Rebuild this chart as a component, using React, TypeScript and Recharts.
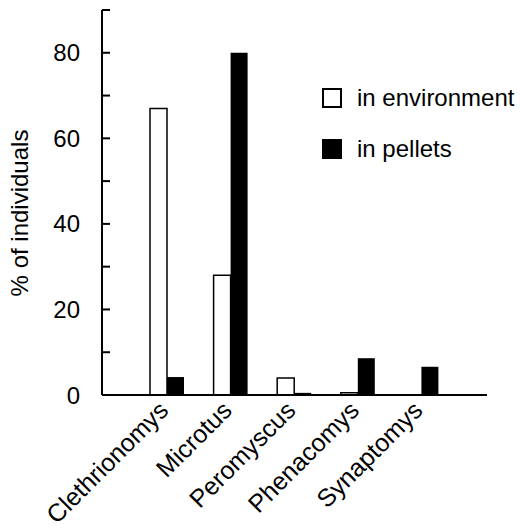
import { BarChart, Bar, XAxis, YAxis, Legend } from "recharts";

const categories = ["Clethrionomys", "Microtus", "Peromyscus", "Phenacomys", "Synaptomys"];
const inEnvironment = [67, 28, 4, 0.5, 0];
const inPellets = [4.2, 80, 0.5, 8.6, 6.6];
const yTicks = [0, 10, 20, 30, 40, 50, 60, 70, 80, 90];

const data = categories.map((name, i) => ({
  name,
  environment: inEnvironment[i],
  pellets: inPellets[i],
}));

const font = "'Liberation Sans', Arial, Helvetica, sans-serif";

const XTick = ({ x, y, payload }: any) => {
  const tx = x + 3;
  const ty = y + 17;
  return (
    <text
      x={tx}
      y={ty}
      transform={`rotate(-45, ${tx}, ${ty})`}
      textAnchor="end"
      fontSize={25}
      fontFamily={font}
      fill="#000"
    >
      {payload.value}
    </text>
  );
};

const LegendBox = ({ payload }: any) => (
  <div style={{ fontFamily: font, fontSize: 24, color: "#000" }}>
    {(payload || []).map((item: any, i: number) => (
      <div key={i} style={{ display: "flex", alignItems: "center", height: 51 }}>
        <span
          style={{
            display: "inline-block",
            width: 16,
            height: 16,
            border: "2px solid #000",
            background: item.dataKey === "pellets" ? "#000" : "#fff",
            marginRight: 15,
          }}
        />
        {item.value}
      </div>
    ))}
  </div>
);

export default function App() {
  return (
    <div style={{ position: "absolute", left: 0, top: 0, background: "#fff" }}>
      <BarChart
        width={521}
        height={530}
        data={data}
        margin={{ top: 10, right: 34, bottom: 0, left: 0 }}
        barGap={0}
        barSize={17}
      >
        <XAxis
          dataKey="name"
          interval={0}
          height={135}
          padding={{ left: 33, right: 34 }}
          axisLine={{ stroke: "#000", strokeWidth: 2 }}
          tickLine={false}
          tickSize={0}
          tickMargin={0}
          tick={<XTick />}
        />
        <YAxis
          width={102}
          domain={[0, 90]}
          ticks={yTicks}
          interval={0}
          axisLine={{ stroke: "#000", strokeWidth: 2 }}
          tickLine={{ stroke: "#000", strokeWidth: 2 }}
          tickSize={-8}
          tickMargin={30}
          tickFormatter={(v: number) => (v % 20 === 0 ? String(v) : "")}
          tick={{ fill: "#000", fontSize: 24, fontFamily: font }}
          label={{
            content: () => (
              <text
                transform="translate(28, 213) rotate(-90)"
                textAnchor="middle"
                fontSize={24}
                fontFamily={font}
                fill="#000"
              >
                % of individuals
              </text>
            ),
          }}
        />
        <Legend
          layout="vertical"
          verticalAlign="middle"
          align="center"
          content={<LegendBox />}
          wrapperStyle={{ top: 72, left: 322, width: "auto" }}
        />
        <Bar
          dataKey="environment"
          name="in environment"
          fill="#fff"
          stroke="#000"
          strokeWidth={1.5}
          isAnimationActive={false}
        />
        <Bar dataKey="pellets" name="in pellets" fill="#000" isAnimationActive={false} />
      </BarChart>
    </div>
  );
}
